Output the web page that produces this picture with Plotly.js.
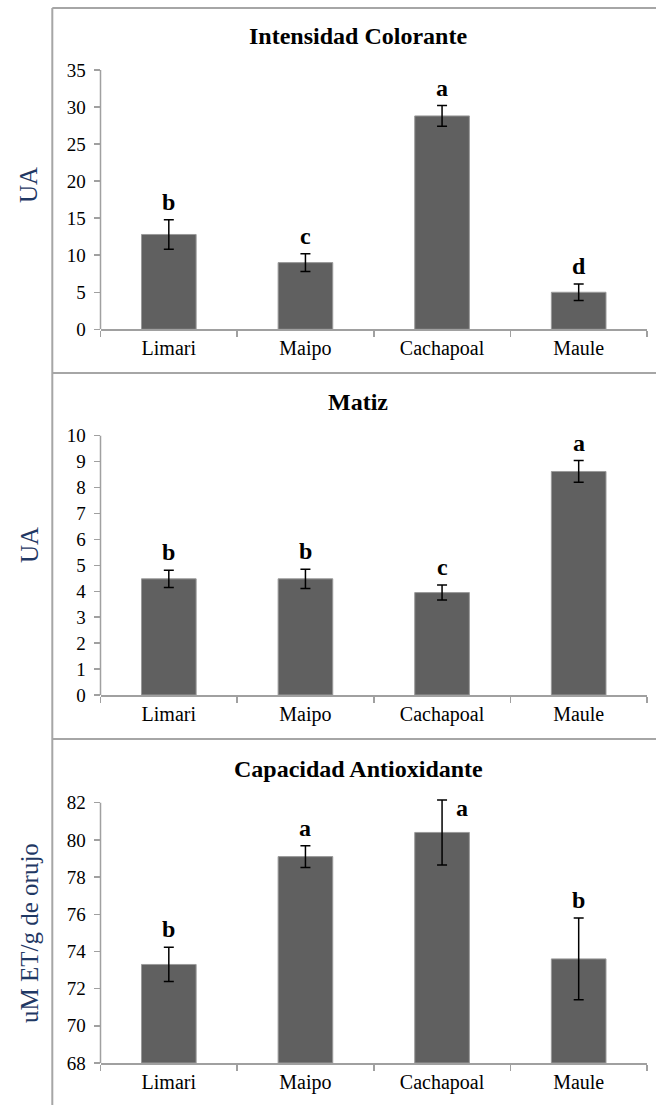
<!DOCTYPE html>
<html>
<head>
<meta charset="utf-8">
<script src="https://cdn.plot.ly/plotly-3.0.1.min.js"></script>
<style>html,body{margin:0;padding:0;background:#fff;}#chart{width:656px;height:1105px;}</style>
</head>
<body>
<div id="chart"></div>
<script>
// ---- data ----
const categories = ["Limari", "Maipo", "Cachapoal", "Maule"];

const titles = ["Intensidad Colorante", "Matiz", "Capacidad Antioxidante"];
const yTitles = ["UA", "UA", "uM ET/g de orujo"];

const intensidadValues = [12.8, 9.0, 28.8, 5.0];
const intensidadErrors = [2.0, 1.2, 1.4, 1.1];
const intensidadLetters = ["b", "c", "a", "d"];

const matizValues = [4.48, 4.48, 3.95, 8.62];
const matizErrors = [0.33, 0.37, 0.29, 0.42];
const matizLetters = ["b", "b", "c", "a"];

const antioxValues = [73.3, 79.1, 80.4, 73.6];
const antioxErrors = [0.92, 0.58, 1.75, 2.2];
const antioxLetters = ["b", "a", "a", "b"];

const yRanges = [[0, 35], [0, 10], [68, 82]];
const yDticks = [5, 1, 2];

// ---- layout helpers ----
const W = 656, H = 1105;
const serif = "Liberation Serif";
const px = v => v / W;
const py = v => 1 - v / H;

const xDomain = [px(100.5), px(647)];
// pixel rows of axis min / axis max for each panel
const panelPx = [[329.3, 70], [695, 435.7], [1063, 802.7]];
const headroomPx = 5; // extra room above the top tick so error caps are not clipped
const titleY = [36, 402, 769];
const yTitleY = [185, 545, 933];

const series = [
  {v: intensidadValues, e: intensidadErrors, l: intensidadLetters},
  {v: matizValues, e: matizErrors, l: matizLetters},
  {v: antioxValues, e: antioxErrors, l: antioxLetters}
];

const traces = [];
const annotations = [];
const layout = {
  width: W, height: H,
  margin: {l: 0, r: 0, t: 0, b: 0},
  paper_bgcolor: "#fff", plot_bgcolor: "#fff",
  showlegend: false,
  font: {family: serif, color: "#000"},
  shapes: [],
  annotations: annotations
};

const axisColor = "#a0a0a0";

series.forEach((s, i) => {
  const n = i === 0 ? "" : String(i + 1);
  const [lo, hi] = yRanges[i];
  const [pBot, pTop] = panelPx[i];
  const perPx = (hi - lo) / (pBot - pTop);
  const hiExt = hi + headroomPx * perPx;

  traces.push({
    type: "bar",
    x: categories, y: s.v.map(v => v - lo), base: lo,
    xaxis: "x" + n, yaxis: "y" + n,
    width: 0.4,
    marker: {color: "#606060", line: {color: "#9a9a9a", width: 1}},
    error_y: {type: "data", array: s.e, visible: true, color: "#000", thickness: 1.5, width: 5},
    hoverinfo: "skip"
  });
  layout["xaxis" + n] = {
    domain: xDomain, anchor: "y" + n, type: "category",
    showline: true, linecolor: axisColor, linewidth: 1.5,
    ticks: "outside", tickson: "boundaries", ticklen: 6, tickcolor: axisColor, tickwidth: 1.5,
    showgrid: false, zeroline: false,
    tickfont: {family: serif, size: 20, color: "#000"},
    fixedrange: true
  };
  layout["yaxis" + n] = {
    domain: [py(pBot), py(pTop - headroomPx)], anchor: "x" + n,
    range: [lo, hiExt], dtick: yDticks[i], tick0: lo,
    showline: false,
    ticks: "outside", ticklen: 6, tickcolor: axisColor, tickwidth: 1.5,
    ticklabelstandoff: 4,
    showgrid: false, zeroline: false,
    tickfont: {family: serif, size: 19, color: "#000"},
    fixedrange: true
  };
  // y-axis line only from the first to the last tick
  layout.shapes.push({
    type: "line", xref: "x" + n + " domain", yref: "y" + n,
    x0: 0, x1: 0, y0: lo, y1: hi,
    line: {color: axisColor, width: 1.5}
  });
  // chart title
  annotations.push({
    xref: "paper", yref: "paper", x: px(358), y: py(titleY[i]),
    xanchor: "center", yanchor: "middle", showarrow: false,
    text: "<b>" + titles[i] + "</b>",
    font: {family: serif, size: 24, color: "#000"}
  });
  // y-axis title
  annotations.push({
    xref: "paper", yref: "paper", x: px(29), y: py(yTitleY[i]),
    xanchor: "center", yanchor: "middle", showarrow: false, textangle: -90,
    text: yTitles[i],
    font: {family: serif, size: 25, color: "#1F3864"}
  });
  // significance letters
  categories.forEach((c, j) => {
    const side = (i === 2 && j === 2);
    annotations.push({
      xref: "x" + n, yref: "y" + n, x: c,
      y: side ? s.v[j] + s.e[j] * 0.75 : s.v[j] + s.e[j],
      xanchor: "center", yanchor: side ? "middle" : "bottom",
      xshift: side ? 20 : 0, yshift: side ? 0 : 3,
      showarrow: false,
      text: "<b>" + s.l[j] + "</b>",
      font: {family: serif, size: 24, color: "#000"}
    });
  });
});

// frame lines
const frameColor = "#a6a6a6";
layout.shapes.push({type: "line", xref: "paper", yref: "paper", x0: px(52.3), x1: px(52.3), y0: py(8), y1: 0, line: {color: frameColor, width: 2}});
[8, 373, 739].forEach(yy => {
  layout.shapes.push({type: "line", xref: "paper", yref: "paper", x0: px(52.3), x1: 1, y0: py(yy), y1: py(yy), line: {color: frameColor, width: 2}});
});

Plotly.newPlot("chart", traces, layout, {displayModeBar: false, staticPlot: true});
</script>
</body>
</html>
